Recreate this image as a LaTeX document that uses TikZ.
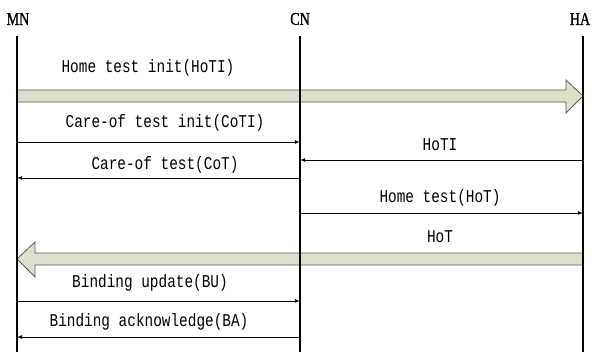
\documentclass[tikz,border=0pt]{standalone}
\usepackage{fontspec}
\newfontfamily\msgfont[FakeStretch=0.8]{Liberation Mono}
\newfontfamily\headfont[FakeStretch=0.78,FakeBold=1.2]{Liberation Serif}
\usepackage{tikz}
\usetikzlibrary{calc}
\usetikzlibrary{positioning}
\definecolor{fatfill}{RGB}{221,224,204}

\begin{document}
\begin{tikzpicture}[x=1pt,y=-1pt,
        head/.style={font=\headfont\fontsize{18}{18}\selectfont,inner sep=0pt},
        life/.style={line width=2.2pt},
        msg/.style={-latex,line width=.8pt},
        lbl/.style={font=\msgfont\fontsize{18}{18}\selectfont,inner sep=0pt},
        fat/.style={draw=black!65,line width=.8pt,fill=fatfill}]
        \useasboundingbox (0,0) rectangle (592,356);
        % entities
        \node[head] (MN) at (18,19) {MN};
        \node[head] (CN) at (300,19) {CN};
        \node[head] (HA) at (580,19) {HA};
        \coordinate (mntop) at (17,36);
        \coordinate (mnend) at (17,352);
        \coordinate (cntop) at (300,36);
        \coordinate (cnend) at (300,352);
        \coordinate (hatop) at (583,36);
        \coordinate (haend) at (583,352);
        % big arrows
        \draw[fat] (mntop |- 0,90) -- (566,90) -- (566,80) -- (hatop |- 0,96) -- (566,113) -- (566,102) -- (mntop |- 0,102) -- cycle;
        \node[lbl] (hotiA) at (148,68) {Home test init(HoTI)};
        \draw[fat] (hatop |- 0,253) -- (35,253) -- (35,242) -- (mntop |- 0,259) -- (35,277) -- (35,265) -- (hatop |- 0,265) -- cycle;
        \node[lbl] (hotA) at (440,237) {HoT};
        % life lines
        \draw[life] (mntop) -- (mnend);
        \draw[life] (cntop) -- (cnend);
        \draw[life] (hatop) -- (haend);
        % messages
        \draw[msg] (mntop |- 0,142) -- (cntop |- 0,142);
        \node[lbl] (coti) at (165,123) {Care-of test init(CoTI)};
        \draw[msg] (hatop |- 0,160) -- (cntop |- 0,160);
        \node[lbl] (hotiB) at (440,145) {HoTI};
        \draw[msg] (cntop |- 0,178) -- (mntop |- 0,178);
        \node[lbl] (cot) at (165,165) {Care-of test(CoT)};
        \draw[msg] (cntop |- 0,213) -- (hatop |- 0,213);
        \node[lbl] (hot) at (440,198) {Home test(HoT)};
        \draw[msg] (mntop |- 0,301) -- (cntop |- 0,301);
        \node[lbl] (bu) at (150,283) {Binding update(BU)};
        \draw[msg] (cntop |- 0,337) -- (mntop |- 0,337);
        \node[lbl] (ba) at (149,322) {Binding acknowledge(BA)};
\end{tikzpicture}
\end{document}
